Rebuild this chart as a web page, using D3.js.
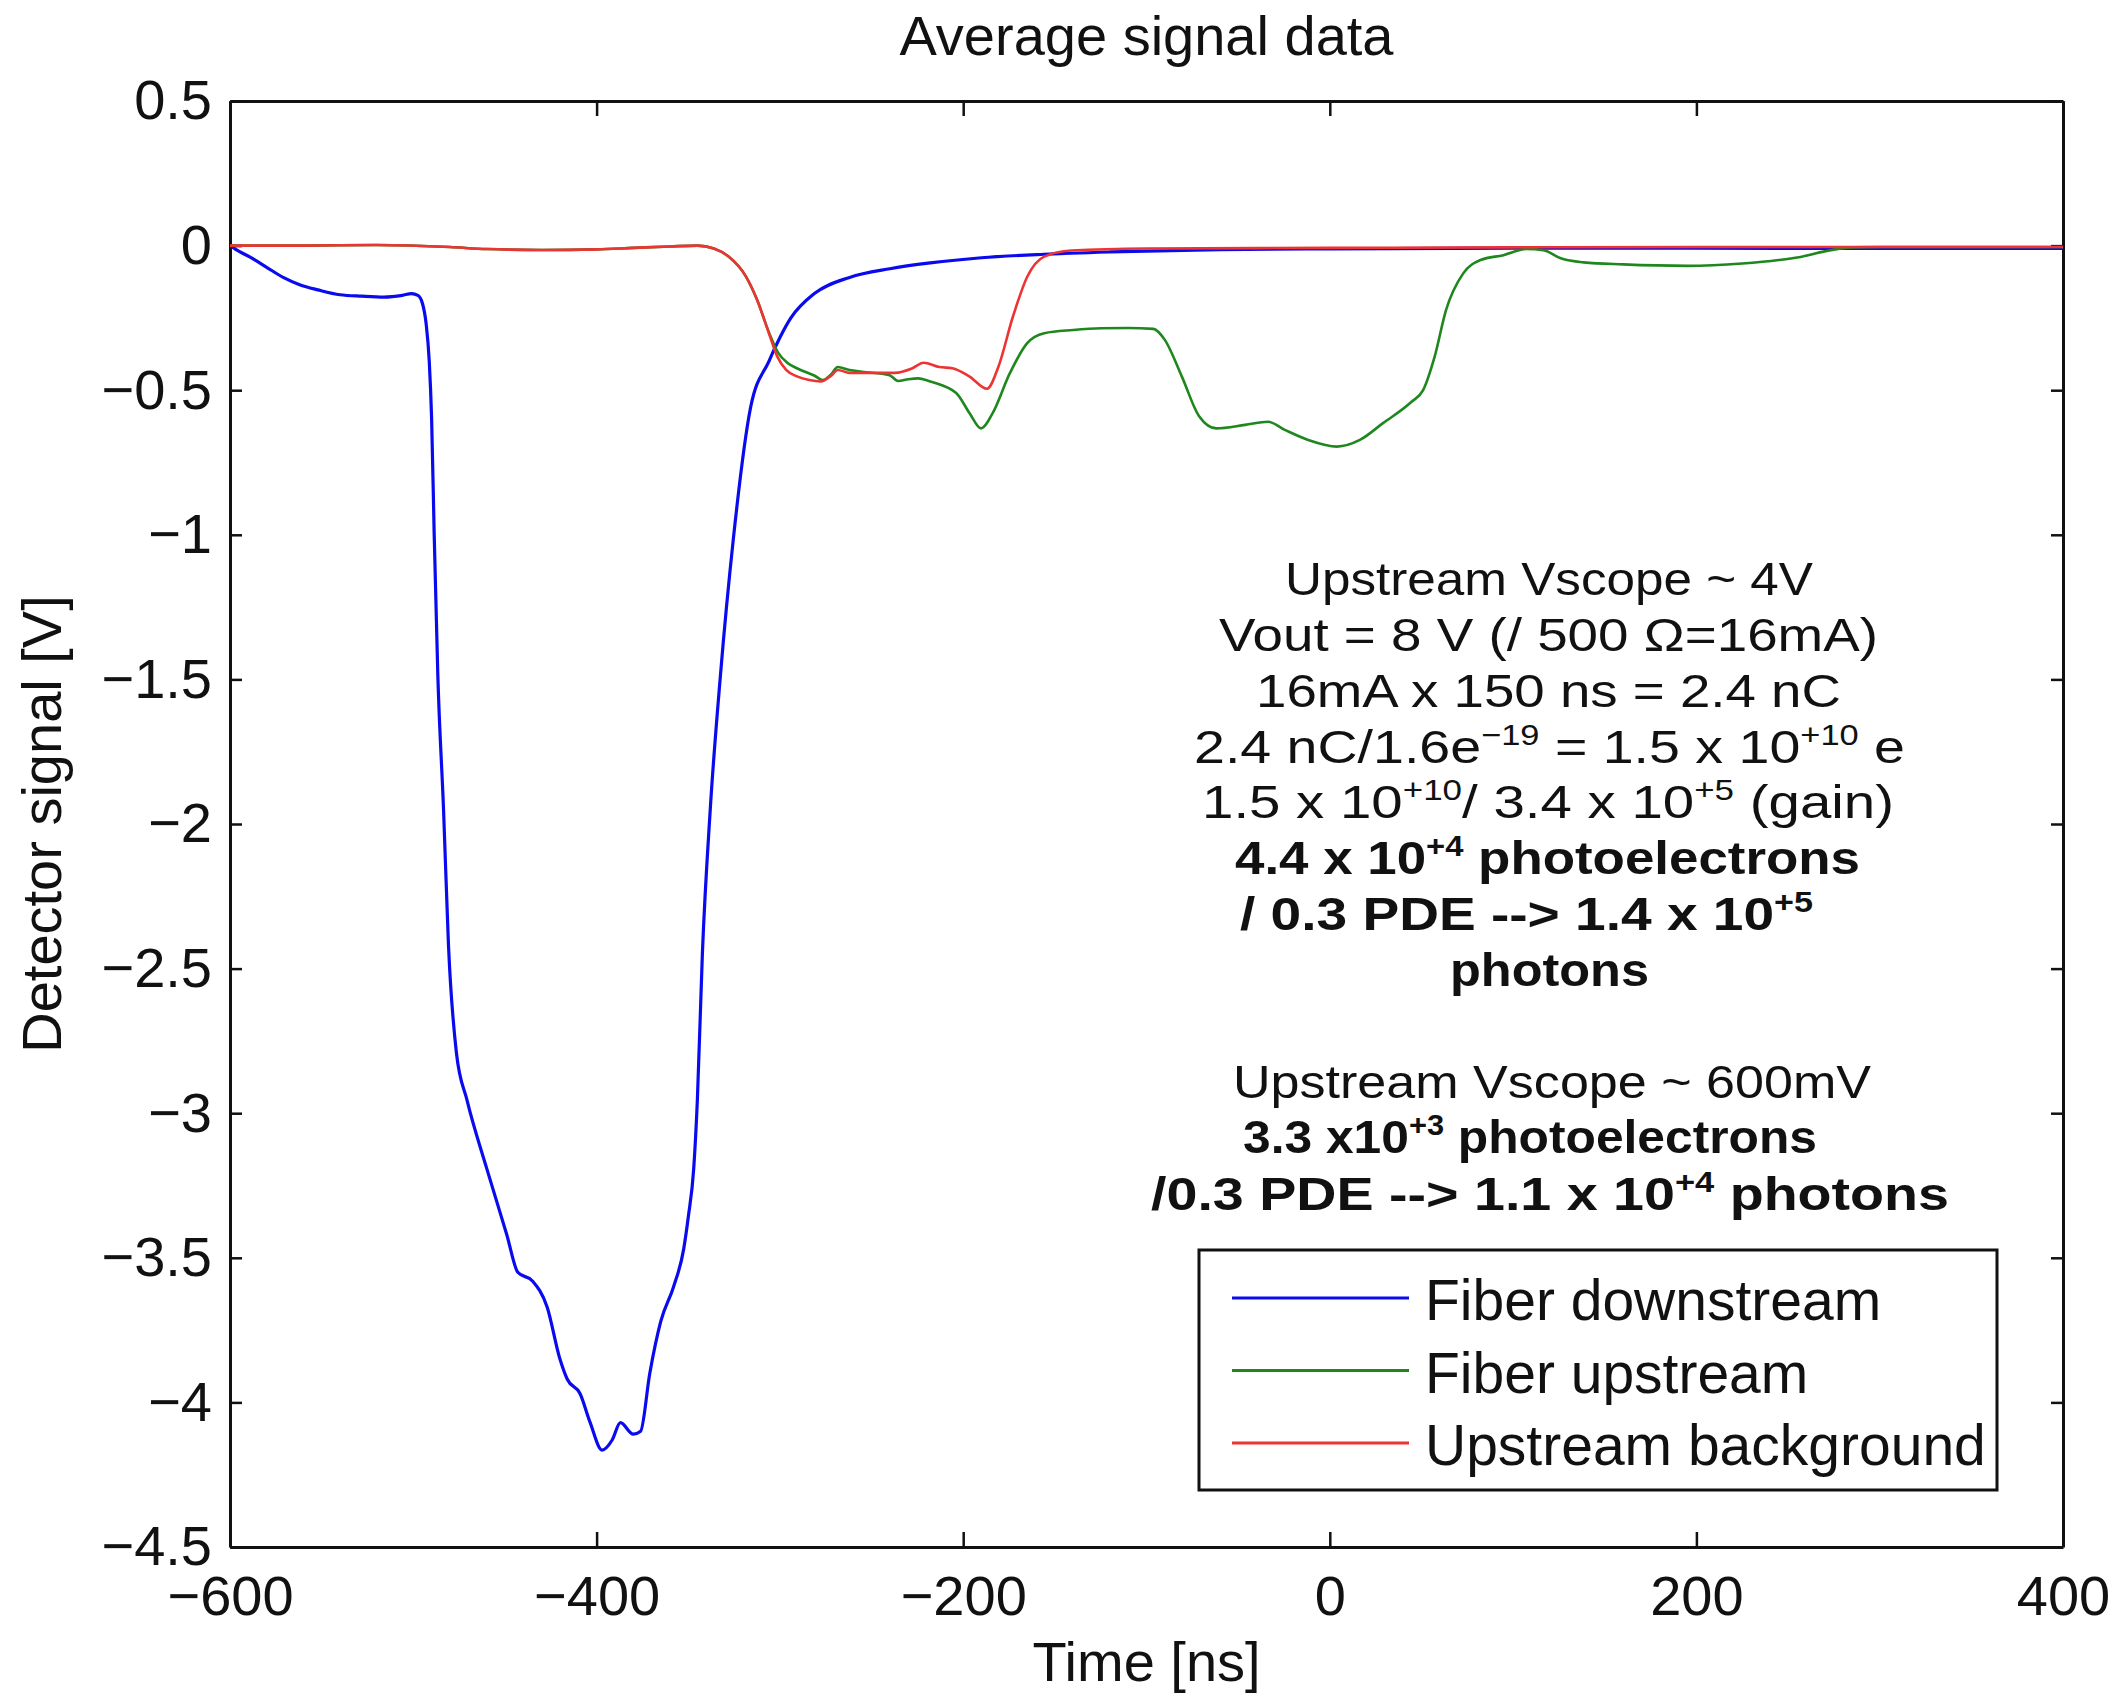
<!DOCTYPE html>
<html>
<head>
<meta charset="utf-8">
<script src="https://cdn.jsdelivr.net/npm/d3@7"></script>
<style>
body { margin: 0; background: #fff; }
text { font-family: "Liberation Sans", Arial, Helvetica, sans-serif; fill: #111; }
</style>
</head>
<body>
<svg id="chart" width="2118" height="1698"></svg>
<script>
// [time ns, signal V]
var downstream = [[-600,0],[-595,-0.02],[-589,-0.04],[-580,-0.075],[-571,-0.11],[-562,-0.135],[-552,-0.153],
  [-540,-0.17],[-528,-0.175],[-516,-0.178],[-506,-0.172],[-501,-0.166],[-497.5,-0.172],[-495,-0.2],[-493,-0.27],
  [-491.3,-0.4],[-490,-0.6],[-488.6,-1.0],[-486.6,-1.49],[-483.5,-1.95],[-480.8,-2.42],[-476.5,-2.79],[-470.7,-2.955],
  [-460,-3.19],[-449,-3.42],[-443,-3.55],[-435,-3.58],[-427,-3.67],[-420,-3.85],[-416,-3.92],[-409,-3.97],
  [-403.5,-4.07],[-397,-4.165],[-391.5,-4.13],[-387,-4.07],[-380,-4.11],[-376,-4.1],[-371,-3.9],[-365,-3.72],
  [-358,-3.6],[-352.5,-3.47],[-350,-3.36],[-347,-3.19],[-345,-2.95],[-342.3,-2.45],[-338,-1.95],[-332.5,-1.49],
  [-325.5,-1.02],[-316,-0.56],[-306,-0.4],[-294,-0.25],[-281,-0.165],[-262,-0.11],[-240,-0.08],[-218,-0.06],
  [-190,-0.042],[-156,-0.03],[-120,-0.022],[-60,-0.014],[0,-0.011],[100,-0.009],[200,-0.009],[300,-0.01],[400,-0.01]];

var upstream = [[-600,0],[-560,0],[-520,0.002],[-480,-0.005],[-460,-0.012],[-430,-0.015],[-400,-0.013],[-380,-0.008],
  [-360,-0.003],[-345,0],[-336,-0.01],[-328,-0.038],[-318.5,-0.107],[-312.4,-0.188],[-306,-0.3],[-301,-0.37],
  [-296,-0.405],[-290.4,-0.425],[-281,-0.45],[-276.6,-0.465],[-272,-0.445],[-268.5,-0.42],[-262,-0.43],[-255.3,-0.436],
  [-240.2,-0.448],[-235.5,-0.468],[-230,-0.462],[-224.6,-0.459],[-218,-0.47],[-212,-0.482],[-202.8,-0.517],
  [-196.5,-0.58],[-190.3,-0.632],[-184,-0.58],[-174.6,-0.442],[-165.2,-0.338],[-155.8,-0.303],[-140,-0.292],
  [-124.6,-0.286],[-110,-0.285],[-96.3,-0.288],[-90,-0.326],[-80.7,-0.453],[-71.3,-0.59],[-61.9,-0.632],
  [-46.2,-0.62],[-33.7,-0.609],[-24.3,-0.638],[-11.8,-0.672],[3.9,-0.695],[16.4,-0.672],[29,-0.614],[44.6,-0.54],
  [50.9,-0.5],[57.2,-0.384],[63.4,-0.223],[72.8,-0.096],[82.2,-0.05],[94.7,-0.033],[107.2,-0.012],[116.6,-0.016],
  [126,-0.044],[138.5,-0.058],[160,-0.065],[195,-0.07],[225,-0.062],[245,-0.05],[256,-0.04],[270,-0.02],
  [285,-0.006],[300,-0.005],[400,-0.005]];

var background = [[-600,0],[-560,0],[-520,0.002],[-480,-0.005],[-460,-0.012],[-430,-0.015],[-400,-0.013],[-380,-0.008],
  [-360,-0.003],[-345,0],[-336,-0.01],[-328,-0.038],[-318.5,-0.107],[-312.4,-0.188],[-306,-0.303],[-301.4,-0.384],
  [-296.6,-0.43],[-290.4,-0.453],[-284,-0.465],[-277.8,-0.47],[-272,-0.45],[-268.5,-0.43],[-262,-0.44],
  [-252.9,-0.44],[-237.2,-0.44],[-228,-0.425],[-221.6,-0.405],[-213,-0.42],[-205.9,-0.424],[-196.5,-0.453],
  [-187,-0.495],[-180.8,-0.419],[-172.9,-0.246],[-165,-0.107],[-155.8,-0.038],[-141,-0.017],[-100,-0.01],
  [0,-0.008],[100,-0.006],[200,-0.005],[300,-0.005],[400,-0.005]];

var seriesNames = ["Fiber downstream", "Fiber upstream", "Upstream background"];
var xTicks = [-600, -400, -200, 0, 200, 400];
var yTicks = [0.5, 0, -0.5, -1, -1.5, -2, -2.5, -3, -3.5, -4, -4.5];

// ^{..} = superscript
var noteLines = [
  "Upstream Vscope ~ 4V",
  "Vout = 8 V (/ 500 \u03A9=16mA)",
  "16mA x 150 ns = 2.4 nC",
  "2.4 nC/1.6e^{\u221219} = 1.5 x 10^{+10} e",
  "1.5 x 10^{+10}/ 3.4 x 10^{+5} (gain)",
  "4.4 x 10^{+4} photoelectrons",
  "/ 0.3 PDE --> 1.4 x 10^{+5}",
  "photons",
  "Upstream Vscope ~ 600mV",
  "3.3 x10^{+3} photoelectrons",
  "/0.3 PDE --> 1.1 x 10^{+4} photons"
];
var noteBold = [false, false, false, false, false, true, true, true, false, true, true];

// layout (plotTop etc: "top" is taken by window.top)
var W = 2118, H = 1698;
var plotLeft = 230, plotRight = 2063, plotTop = 101, plotBottom = 1547;
var colors = ["#0a0aee", "#1e871e", "#ee3333"];
var widths = [3.2, 2.6, 2.6];
var noteX = [1285, 1219, 1256, 1194, 1202, 1235, 1240, 1450, 1233, 1243, 1151];
var noteW = [528, 659, 585, 711, 692, 625, 573, 199, 638, 574, 798];
var noteY = [578, 634, 690, 746, 801, 857, 913, 969, 1081, 1136, 1193];
var noteFs = 47;

var svg = d3.select("#chart");

var x = d3.scaleLinear().domain([-600, 400]).range([plotLeft, plotRight]);
var y = d3.scaleLinear().domain([-4.5, 0.5]).range([plotBottom, plotTop]);

function fmt(d) {
    if (d === 0) return "0";
    return (d < 0 ? "\u2212" : "") + Math.abs(d);
}

// axes, ticks pointing inward like matlab
var gx = svg.append("g").attr("transform", "translate(0," + plotBottom + ")")
    .call(d3.axisBottom(x).tickValues(xTicks).tickFormat(fmt).tickSizeInner(-15).tickSizeOuter(0).tickPadding(28));
var gxt = svg.append("g").attr("transform", "translate(0," + plotTop + ")")
    .call(d3.axisTop(x).tickValues(xTicks).tickFormat("").tickSizeInner(-15).tickSizeOuter(0));
var gy = svg.append("g").attr("transform", "translate(" + plotLeft + ",0)")
    .call(d3.axisLeft(y).tickValues(yTicks).tickFormat(fmt).tickSizeInner(-12).tickSizeOuter(0).tickPadding(18));
var gyr = svg.append("g").attr("transform", "translate(" + plotRight + ",0)")
    .call(d3.axisRight(y).tickValues(yTicks).tickFormat("").tickSizeInner(-12).tickSizeOuter(0));

svg.selectAll(".domain").attr("stroke", "#111").attr("stroke-width", 3);
svg.selectAll(".tick line").attr("stroke", "#111").attr("stroke-width", 2.5);
gx.selectAll("text").attr("font-size", 56).attr("font-family", "Liberation Sans, Arial, sans-serif").attr("fill", "#111");
gy.selectAll("text").attr("font-size", 56).attr("font-family", "Liberation Sans, Arial, sans-serif").attr("fill", "#111");

// curves
var line = d3.line()
    .x(function(d) { return x(d[0]); })
    .y(function(d) { return y(d[1]); })
    .curve(d3.curveMonotoneX);

var allSeries = [downstream, upstream, background];
allSeries.forEach(function(s, i) {
    svg.append("path")
        .datum(s)
        .attr("d", line)
        .attr("fill", "none")
        .attr("stroke", colors[i])
        .attr("stroke-width", widths[i])
        .attr("stroke-linejoin", "round");
});

// title and axis labels
svg.append("text").attr("x", (plotLeft + plotRight) / 2).attr("y", 55)
    .attr("text-anchor", "middle").attr("font-size", 56).text("Average signal data");
svg.append("text").attr("x", (plotLeft + plotRight) / 2).attr("y", 1681)
    .attr("text-anchor", "middle").attr("font-size", 56).text("Time [ns]");
svg.append("text").attr("transform", "translate(61," + ((plotTop + plotBottom) / 2) + ") rotate(-90)")
    .attr("text-anchor", "middle").attr("font-size", 56).text("Detector signal [V]");

// annotation block
function richText(sel, str, fs) {
    var parts = str.split(/(\^\{[^}]*\})/);
    var shift = 0;
    parts.forEach(function(p) {
        if (!p) return;
        if (p.indexOf("^{") === 0) {
            sel.append("tspan").attr("font-size", fs * 0.62).attr("dy", -fs * 0.38)
                .text(p.slice(2, -1));
            shift = fs * 0.38;
        } else {
            sel.append("tspan").attr("dy", shift).text(p);
            shift = 0;
        }
    });
}

noteLines.forEach(function(s, i) {
    var t = svg.append("text")
        .attr("x", noteX[i])
        .attr("y", noteY[i] + noteFs * 0.36)
        .attr("font-family", "DejaVu Sans, Verdana, sans-serif")
        .attr("font-size", noteFs)
        .attr("font-weight", noteBold[i] ? "bold" : "normal")
        .attr("fill", "#000")
        .attr("textLength", noteW[i])
        .attr("lengthAdjust", "spacingAndGlyphs");
    richText(t, s, noteFs);
});

// legend
var lg = svg.append("g");
lg.append("rect").attr("x", 1199).attr("y", 1250).attr("width", 798).attr("height", 240)
    .attr("fill", "#fff").attr("stroke", "#111").attr("stroke-width", 3);
seriesNames.forEach(function(name, i) {
    var ry = 1298 + i * 72.5;
    lg.append("line").attr("x1", 1232).attr("x2", 1409).attr("y1", ry).attr("y2", ry)
        .attr("stroke", colors[i]).attr("stroke-width", 3);
    lg.append("text").attr("x", 1425).attr("y", ry + 22).attr("font-size", 57).text(name);
});
</script>
</body>
</html>
